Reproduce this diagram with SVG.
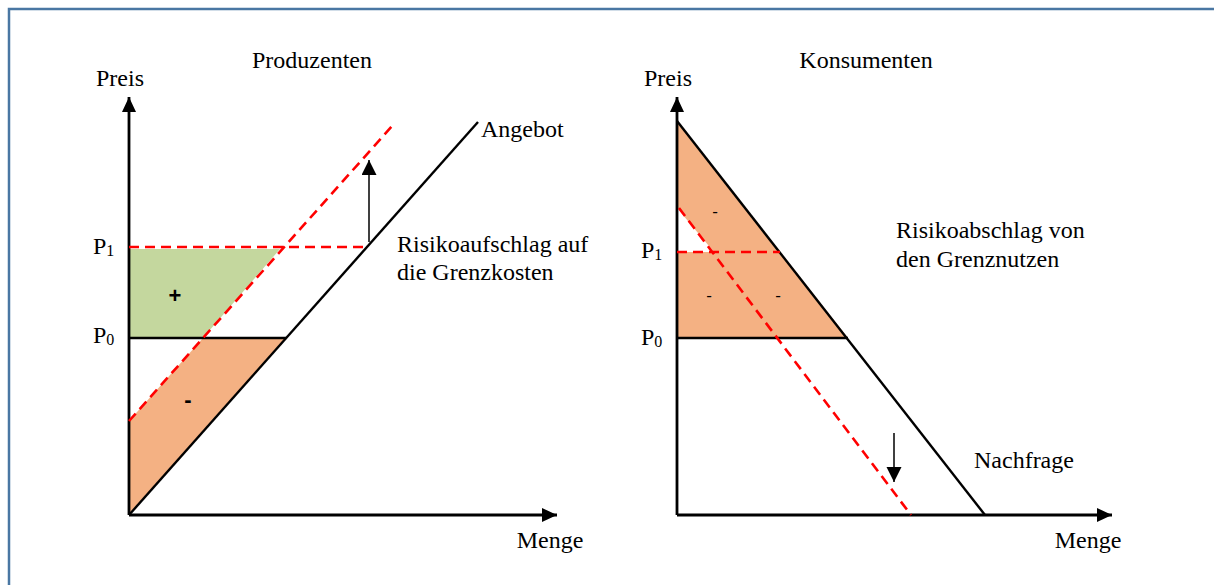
<svg xmlns="http://www.w3.org/2000/svg" width="1214" height="585" viewBox="0 0 1214 585">
<style>
text{font-family:"Liberation Serif","Times New Roman",serif;font-size:24px;fill:#000}
.sub{font-size:16px}
.ax{stroke:#000;stroke-width:2.8;fill:none}
.ln{stroke:#000;stroke-width:2.4;fill:none}
.red{stroke:#ff0000;stroke-width:2.6;stroke-dasharray:10,6;fill:none}
.sign{font-family:"Liberation Sans",Arial,sans-serif;font-size:22px;font-weight:bold}
.signs{font-family:"Liberation Sans",Arial,sans-serif;font-size:17px}
</style>
<defs>
<marker id="ah" markerWidth="16" markerHeight="16" refX="15" refY="7" orient="auto" markerUnits="userSpaceOnUse">
<path d="M0,0 L15,7 L0,14 Z" fill="#000"/>
</marker>
<marker id="ahs" markerWidth="16" markerHeight="16" refX="15" refY="7.5" orient="auto" markerUnits="userSpaceOnUse">
<path d="M0,0 L15,7.5 L0,15 Z" fill="#000"/>
</marker>
</defs>
<rect width="1214" height="585" fill="#fff"/>
<rect x="9" y="9" width="1220" height="600" fill="none" stroke="#4a77a3" stroke-width="2.5"/>

<g id="producers">
<g id="prod-areas">
<polygon points="129,249 280,249 203,338 129,338" fill="#c4d79e"/>
<polygon points="203,338 286,338 129,515 129,421" fill="#f4b183"/>
</g>
<g id="prod-axes">
<line class="ax" x1="129" y1="515" x2="129" y2="97" marker-end="url(#ah)"/>
<line class="ax" x1="129" y1="515" x2="557" y2="515" marker-end="url(#ah)"/>
</g>
<g id="prod-labels">
<text x="312" y="68" text-anchor="middle">Produzenten</text>
<text x="120" y="86" text-anchor="middle">Preis</text>
<text x="481" y="137">Angebot</text>
<text x="397" y="252">Risikoaufschlag auf</text>
<text x="397" y="280">die Grenzkosten</text>
<text x="93" y="254">P<tspan class="sub" dy="2">1</tspan></text>
<text x="93" y="343">P<tspan class="sub" dy="2">0</tspan></text>
<text class="sign" x="175" y="303" text-anchor="middle">+</text>
<text class="sign" x="188" y="407" text-anchor="middle">-</text>
<text x="550" y="548" text-anchor="middle">Menge</text>
</g>
</g>

<g id="consumers">
<g id="cons-areas">
<polygon points="677,121 848,338 677,338" fill="#f4b183"/>
<polygon points="677,208 714,252 677,252" fill="#fff"/>
</g>
<g id="cons-axes">
<line class="ax" x1="677" y1="515" x2="677" y2="97" marker-end="url(#ah)"/>
<line class="ax" x1="677" y1="515" x2="1112" y2="515" marker-end="url(#ah)"/>
</g>
<g id="cons-labels">
<text x="866" y="68" text-anchor="middle">Konsumenten</text>
<text x="668" y="86" text-anchor="middle">Preis</text>
<text x="896" y="238">Risikoabschlag von</text>
<text x="896" y="267">den Grenznutzen</text>
<text x="974" y="468">Nachfrage</text>
<text x="641" y="258">P<tspan class="sub" dy="2">1</tspan></text>
<text x="641" y="345">P<tspan class="sub" dy="2">0</tspan></text>
<text class="signs" x="715" y="217" text-anchor="middle">-</text>
<text class="signs" x="709" y="301" text-anchor="middle">-</text>
<text class="signs" x="778" y="301" text-anchor="middle">-</text>
<text x="1088" y="548" text-anchor="middle">Menge</text>
</g>
</g>

<g id="connectors">
<line class="ln" x1="129" y1="515" x2="478" y2="122"/>
<line class="ln" x1="129" y1="338" x2="286" y2="338"/>
<line class="red" x1="129" y1="421" x2="393" y2="125"/>
<line class="red" x1="129" y1="247" x2="367" y2="247"/>
<line stroke="#000" stroke-width="1.5" x1="369" y1="242" x2="369" y2="160" marker-end="url(#ahs)"/>
<line class="ln" x1="677" y1="121" x2="985" y2="515"/>
<line class="ln" x1="677" y1="338" x2="848" y2="338"/>
<line class="red" x1="679" y1="208" x2="911" y2="515"/>
<line class="red" x1="677" y1="252" x2="780" y2="252"/>
<line stroke="#000" stroke-width="1.5" x1="894" y1="433" x2="894" y2="482" marker-end="url(#ahs)"/>
</g>
</svg>
